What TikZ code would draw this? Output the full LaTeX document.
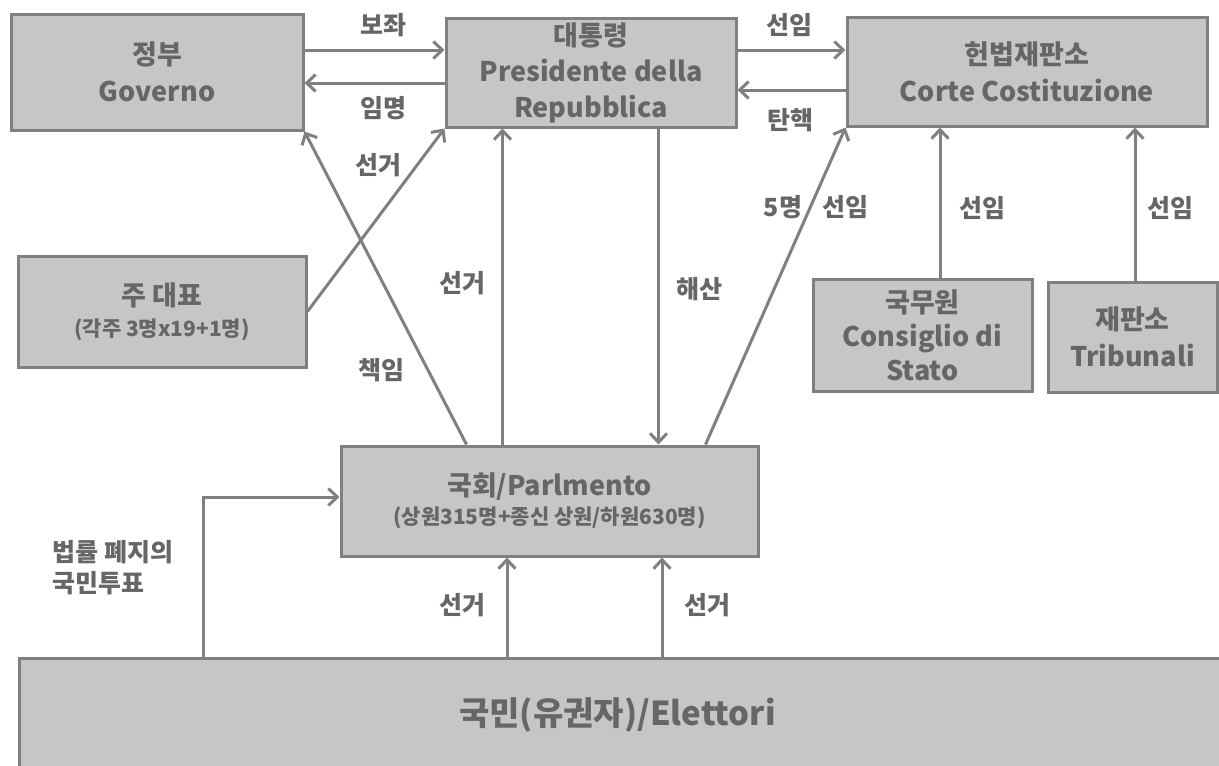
\documentclass[tikz,border=0pt]{standalone}
\usepackage{fontspec}
\setmainfont{Noto Sans CJK KR}
\usetikzlibrary{arrows.meta,positioning}
\definecolor{BoxGray}{HTML}{C6C6C6}
\definecolor{LineGray}{HTML}{808080}
\definecolor{TextGray}{HTML}{666666}
\tikzset{
	box/.style={
		draw=LineGray,fill=BoxGray,line width=3pt,text=TextGray,align=center,
		inner sep=0pt,font=\bfseries\fontsize{27}{37}\selectfont},
	arr/.style={draw=LineGray,line width=3pt,-{Straight Barb[length=9pt,width=17pt]}},
	lab/.style={text=TextGray,font=\bfseries\fontsize{25}{31}\selectfont}
}
\def\subtxt#1{{\fontsize{21}{26}\selectfont #1}}

\begin{document}
\begin{tikzpicture}[x=1pt,y=-1pt]
	\clip (0,0) rectangle (1219,766);
	% boxes
	\node[box,minimum width=292pt,minimum height=116pt] (gov) at (157,72) {정부\\Governo};
	\node[box,minimum width=290pt,minimum height=109pt] (pres) at (591,72.5) {대통령\\[-1pt]Presidente della\\[-1pt]Repubblica};
	\node[box,minimum width=360pt,minimum height=109pt] (court) at (1027,71.5) {헌법재판소\\Corte Costituzione};
	\node[box,minimum width=288pt,minimum height=111pt] (states) at (162,311.5) {주 대표\\[-6pt]\subtxt{(각주 3명x19+1명)}};
	\node[box,minimum width=219pt,minimum height=112pt] (council) at (922.5,335) {국무원\\[-3pt]Consiglio di\\[-3pt]Stato};
	\node[box,minimum width=169pt,minimum height=110pt] (courts) at (1132.5,337) {재판소\\Tribunali};
	\node[box,minimum width=417pt,minimum height=110pt] (parl) at (549.5,501) {국회/Parlmento\\[-8pt]\subtxt{(상원315명+종신 상원/하원630명)}};
	\node[box,minimum width=1212pt,minimum height=112pt,anchor=north west,
		font=\bfseries\fontsize{33}{40}\selectfont] (voters) at (18,657) {\hspace*{-16pt}국민(유권자)/Elettori};

	% connectors
	\draw[arr] ([yshift=22pt]gov.east) -- ([yshift=22pt]gov.east -| pres.west);
	\draw[arr] ([yshift=-11pt]gov.east -| pres.west) -- ([yshift=-11pt]gov.east);
	\draw[arr] ([yshift=22.5pt]pres.east) -- ([yshift=22.5pt]pres.east -| court.west);
	\draw[arr] ([yshift=-17.5pt]pres.east -| court.west) -- ([yshift=-17.5pt]pres.east);
	\draw[arr] (states.east) -- (pres.south west);
	\draw[arr] ([xshift=127pt]parl.north west) -- (gov.south east);
	\draw[arr] ([xshift=163pt]parl.north west) -- ([xshift=163pt]parl.north west |- pres.south);
	\draw[arr] ([xshift=319pt]parl.north west |- pres.south) -- ([xshift=319pt]parl.north west);
	\draw[arr] ([xshift=366pt]parl.north west) -- (court.south west);
	\draw[arr] ([xshift=17.5pt]council.north) -- ([xshift=17.5pt]council.north |- court.south);
	\draw[arr] ([xshift=2.5pt]courts.north) -- ([xshift=2.5pt]courts.north |- court.south);
	\draw[arr] ([xshift=-42.5pt]parl.south |- voters.north) -- ([xshift=-42.5pt]parl.south);
	\draw[arr] ([xshift=112.5pt]parl.south |- voters.north) -- ([xshift=112.5pt]parl.south);
	\draw[arr] ([xshift=185pt]voters.north west) |- ([yshift=4pt]parl.west);

	% labels
	\node[lab] (l1) at (383,25) {보좌};
	\node[lab] (l2) at (383,108) {임명};
	\node[lab] (l3) at (789,25) {선임};
	\node[lab] (l4) at (790,120) {탄핵};
	\node[lab] (l5) at (378,165) {선거};
	\node[lab] (l6) at (381,370) {책임};
	\node[lab] (l7) at (462,283) {선거};
	\node[lab] (l8) at (699,289) {해산};
	\node[lab] (l9) at (816,207) {5명\hspace{20pt}선임};
	\node[lab] (l10) at (982,208) {선임};
	\node[lab] (l11) at (1170,208) {선임};
	\node[lab] (l12) at (462,605) {선거};
	\node[lab] (l13) at (707,605) {선거};
	\node[lab,align=left,anchor=west] (l14) at (49,568) {법률 폐지의\\국민투표};
\end{tikzpicture}
\end{document}
